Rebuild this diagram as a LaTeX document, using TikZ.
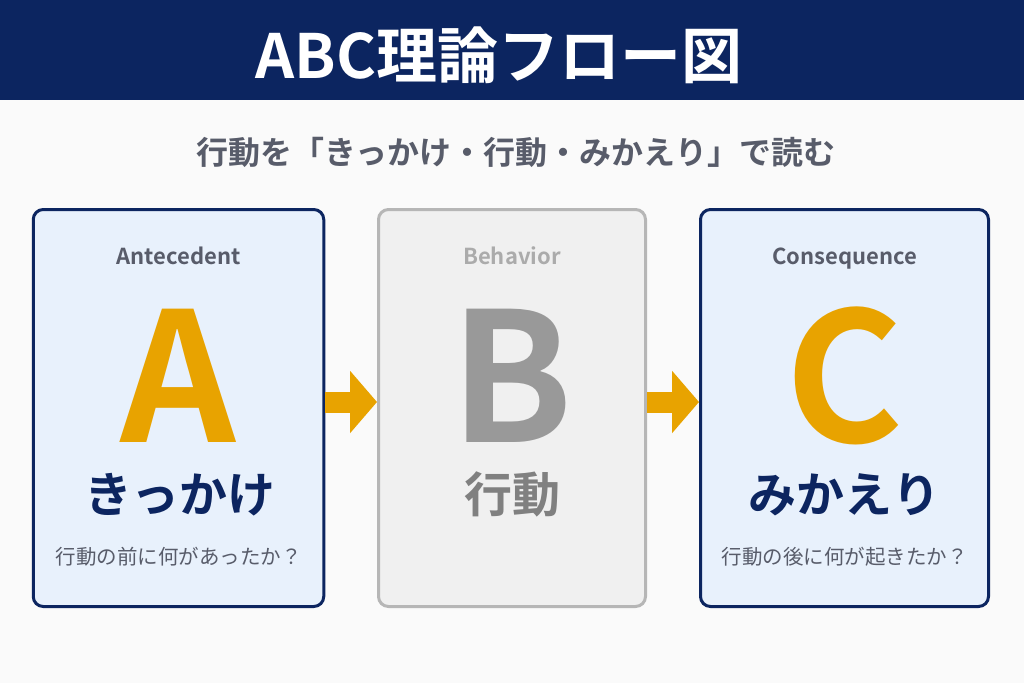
\documentclass[tikz,border=0pt]{standalone}
\usepackage{fontspec}
\setmainfont{Noto Sans CJK JP}[BoldFont={Noto Sans CJK JP Bold}]
\usetikzlibrary{arrows.meta,calc}
\definecolor{NavyClr}{RGB}{12,37,96}
\definecolor{OrangeClr}{RGB}{232,163,0}
\definecolor{LabelClr}{RGB}{88,92,106}
\definecolor{PaleClr}{RGB}{232,241,252}
\definecolor{GreyLineClr}{RGB}{182,182,182}
\definecolor{GreyFillClr}{RGB}{240,240,240}
\definecolor{BackClr}{RGB}{250,250,250}

\begin{document}
\begin{tikzpicture}[x=1pt,y=-1pt,
  card/.style={draw=NavyClr,fill=PaleClr,line width=3pt,rounded corners=10pt,minimum height=397pt},
  greycard/.style={card,draw=GreyLineClr,fill=GreyFillClr},
  engword/.style={anchor=base,font=\bfseries\fontsize{22}{22}\selectfont,text=LabelClr},
  bigletter/.style={anchor=base,font=\bfseries\fontsize{180}{180}\selectfont,text=OrangeClr},
  jpword/.style={anchor=base,font=\bfseries\fontsize{48}{48}\selectfont,text=NavyClr},
  question/.style={anchor=base,font=\fontsize{20.5}{20.5}\selectfont,text=LabelClr},
  flowarrow/.style={line width=21pt,OrangeClr,-{Triangle[length=27pt,width=61pt]}}]

\useasboundingbox (0,0) rectangle (1024,683);
\fill[BackClr] (0,0) rectangle (1024,683);
\fill[NavyClr] (0,0) rectangle (1024,100);

\node[anchor=base,text=white,font=\bfseries\fontsize{61}{61}\selectfont] (title) at (499,78) {ABC理論フロー図};
\node[anchor=base,text=LabelClr,font=\bfseries\fontsize{32}{32}\selectfont] (subtitle) at (516,164) {行動を「きっかけ・行動・みかえり」で読む};

\node[card,minimum width=290.5pt] (cardA) at (178.5,408) {};
\node[greycard,minimum width=267pt] (cardB) at (512,408) {};
\node[card,minimum width=288pt] (cardC) at (844.5,408) {};

\draw[flowarrow] ([yshift=6pt]cardA.east) -- ([yshift=6pt]cardB.west);
\draw[flowarrow] ([yshift=6pt]cardB.east) -- ([yshift=6pt]cardC.west);

% Antecedent
\node[engword] (engA) at (178.5,264) {Antecedent};
\node[bigletter] (letA) at (178.5,442) {A};
\node[jpword] (jpA) at (180,512) {きっかけ};
\node[question] (qA) at (178.5,564) {行動の前に何があったか？};

% Behavior
\node[engword,text=black!33] (engB) at (512,264) {Behavior};
\node[bigletter,text=black!40] (letB) at (512,442) {B};
\node[jpword,text=black!50] (jpB) at (512,512) {行動};

% Consequence
\node[engword] (engC) at (844.5,264) {Consequence};
\node[bigletter] (letC) at (844.5,442) {C};
\node[jpword] (jpC) at (844.5,512) {みかえり};
\node[question] (qC) at (844.5,564) {行動の後に何が起きたか？};

\end{tikzpicture}
\end{document}
